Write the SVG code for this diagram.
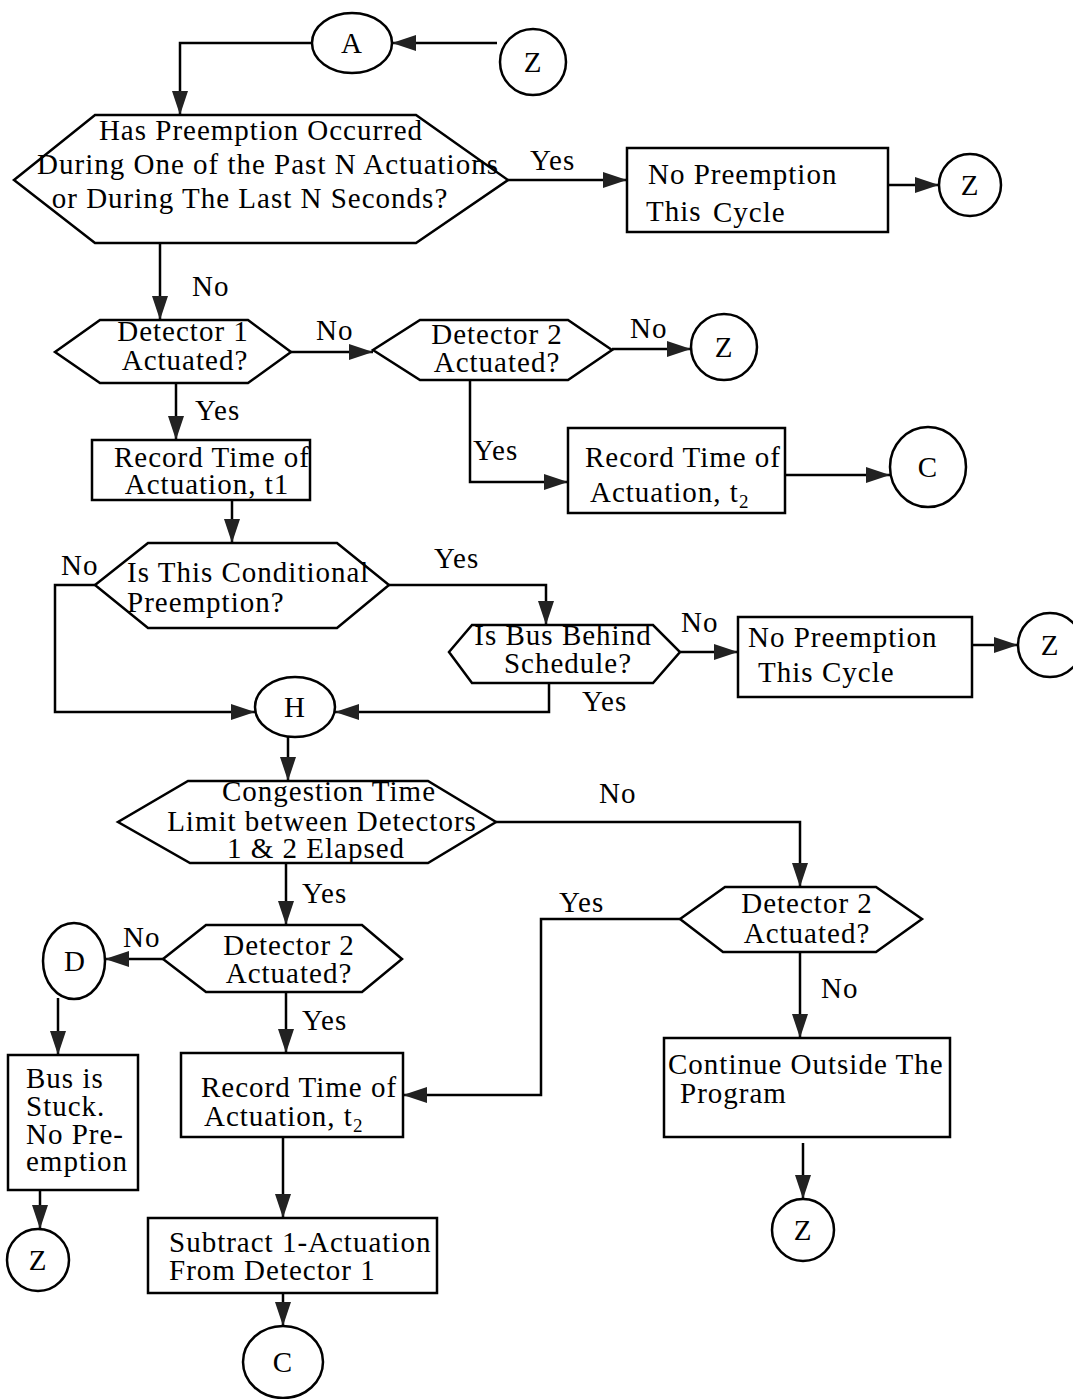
<svg xmlns="http://www.w3.org/2000/svg" width="1073" height="1399" viewBox="0 0 1073 1399">
<style>
.s{fill:#fff;stroke:#000;stroke-width:2.5}
.t{font-family:"Liberation Serif","Times New Roman",serif;font-size:29px;letter-spacing:1px;fill:#000}
.m{text-anchor:middle}
.c{fill:none;stroke:#000;stroke-width:2.5}
.sub{font-size:19px}
</style>
<defs>
<marker id="ar" markerUnits="userSpaceOnUse" markerWidth="26" markerHeight="18" refX="24" refY="9" orient="auto">
<path d="M0,1 L24,9 L0,17 z" fill="#222"/>
</marker>
</defs>
<rect width="1073" height="1399" fill="#fff"/>
<g id="connectors">
<path class="c" d="M497,43 L392,43" marker-end="url(#ar)"/>
<path class="c" d="M312,43 L180,43 L180,115" marker-end="url(#ar)"/>
<path class="c" d="M508,180 L627,180" marker-end="url(#ar)"/>
<path class="c" d="M888,185 L939,185" marker-end="url(#ar)"/>
<path class="c" d="M160,243 L160,320" marker-end="url(#ar)"/>
<path class="c" d="M291,352 L373,352" marker-end="url(#ar)"/>
<path class="c" d="M612,349 L691,349" marker-end="url(#ar)"/>
<path class="c" d="M470,380 L470,482 L568,482" marker-end="url(#ar)"/>
<path class="c" d="M785,475 L890,475" marker-end="url(#ar)"/>
<path class="c" d="M176,383 L176,440" marker-end="url(#ar)"/>
<path class="c" d="M232,500 L232,543" marker-end="url(#ar)"/>
<path class="c" d="M95,585 L55,585 L55,712 L255,712" marker-end="url(#ar)"/>
<path class="c" d="M389,585 L546,585 L546,625" marker-end="url(#ar)"/>
<path class="c" d="M680,652 L738,652" marker-end="url(#ar)"/>
<path class="c" d="M972,645 L1018,645" marker-end="url(#ar)"/>
<path class="c" d="M549,683 L549,712 L335,712" marker-end="url(#ar)"/>
<path class="c" d="M288,737 L288,781" marker-end="url(#ar)"/>
<path class="c" d="M496,822 L800,822 L800,887" marker-end="url(#ar)"/>
<path class="c" d="M286,863 L286,925" marker-end="url(#ar)"/>
<path class="c" d="M163,959 L105,959" marker-end="url(#ar)"/>
<path class="c" d="M58,998 L58,1055" marker-end="url(#ar)"/>
<path class="c" d="M40,1190 L40,1229" marker-end="url(#ar)"/>
<path class="c" d="M286,992 L286,1053" marker-end="url(#ar)"/>
<path class="c" d="M680,919 L541,919 L541,1095 L403,1095" marker-end="url(#ar)"/>
<path class="c" d="M800,952 L800,1038" marker-end="url(#ar)"/>
<path class="c" d="M283,1137 L283,1218" marker-end="url(#ar)"/>
<path class="c" d="M283,1293 L283,1326" marker-end="url(#ar)"/>
<path class="c" d="M803,1143 L803,1199" marker-end="url(#ar)"/>
<text class="t" x="530" y="170">Yes</text>
<text class="t" x="192" y="296">No</text>
<text class="t" x="316" y="340">No</text>
<text class="t" x="630" y="338">No</text>
<text class="t" x="473" y="460">Yes</text>
<text class="t" x="195" y="420">Yes</text>
<text class="t" x="61" y="575">No</text>
<text class="t" x="434" y="568">Yes</text>
<text class="t" x="681" y="632">No</text>
<text class="t" x="582" y="711">Yes</text>
<text class="t" x="599" y="803">No</text>
<text class="t" x="302" y="903">Yes</text>
<text class="t" x="123" y="947">No</text>
<text class="t" x="302" y="1030">Yes</text>
<text class="t" x="559" y="912">Yes</text>
<text class="t" x="821" y="998">No</text>
</g>
<g id="nA"><ellipse class="s" cx="352" cy="43" rx="40" ry="30"/><text class="t m" x="352" y="53">A</text></g>
<g id="nZ1"><ellipse class="s" cx="533" cy="62" rx="33" ry="33"/><text class="t m" x="533" y="72">Z</text></g>
<g id="nQ1"><polygon class="s" points="95,115 416,115 508,180 416,243 95,243 14,180"/>
<text class="t m" x="261" y="140">Has Preemption Occurred</text>
<text class="t m" x="268" y="174">During One of the Past N Actuations</text>
<text class="t m" x="250" y="208">or During The Last N Seconds?</text></g>
<g id="nB1"><rect class="s" x="627" y="148" width="261" height="84"/>
<text class="t" x="648" y="184">No Preemption</text>
<text class="t" x="646" y="221">This</text><text class="t" x="713" y="222">Cycle</text></g>
<g id="nZ2"><ellipse class="s" cx="970" cy="185" rx="31" ry="31"/><text class="t m" x="970" y="195">Z</text></g>
<g id="nDet1"><polygon class="s" points="100,320 248,320 291,352 248,383 100,383 55,352"/>
<text class="t m" x="183" y="341">Detector 1</text>
<text class="t m" x="185" y="370">Actuated?</text></g>
<g id="nDet2a"><polygon class="s" points="420,320 568,320 612,350 568,380 420,380 373,350"/>
<text class="t m" x="497" y="344">Detector 2</text>
<text class="t m" x="497" y="372">Actuated?</text></g>
<g id="nZ3"><ellipse class="s" cx="724" cy="347" rx="33" ry="33"/><text class="t m" x="724" y="357">Z</text></g>
<g id="nRec2a"><rect class="s" x="568" y="428" width="217" height="85"/>
<text class="t m" x="683" y="467">Record Time of</text>
<text class="t" x="590" y="502">Actuation, t<tspan class="sub" dy="6">2</tspan></text></g>
<g id="nC1"><ellipse class="s" cx="928" cy="467" rx="38" ry="40"/><text class="t m" x="928" y="477">C</text></g>
<g id="nRec1"><rect class="s" x="92" y="440" width="218" height="60"/>
<text class="t m" x="212" y="467">Record Time of</text>
<text class="t m" x="207" y="494">Actuation, t1</text></g>
<g id="nCond"><polygon class="s" points="148,543 337,543 389,585 337,628 148,628 95,585"/>
<text class="t" x="127" y="582">Is This Conditional</text>
<text class="t" x="127" y="612">Preemption?</text></g>
<g id="nBus"><polygon class="s" points="472,625 653,625 680,652 653,683 472,683 449,652"/>
<text class="t m" x="563" y="645">Is Bus Behind</text>
<text class="t m" x="568" y="673">Schedule?</text></g>
<g id="nB2"><rect class="s" x="738" y="617" width="234" height="80"/>
<text class="t" x="748" y="647">No Preemption</text>
<text class="t" x="758" y="682">This</text><text class="t" x="822" y="682">Cycle</text></g>
<g id="nZ4"><ellipse class="s" cx="1050" cy="645" rx="32" ry="32"/><text class="t m" x="1050" y="655">Z</text></g>
<g id="nH"><ellipse class="s" cx="295" cy="707" rx="40" ry="30"/><text class="t m" x="295" y="717">H</text></g>
<g id="nCong"><polygon class="s" points="188,781 428,781 496,822 428,863 190,863 118,822"/>
<text class="t m" x="329" y="801">Congestion Time</text>
<text class="t m" x="322" y="831">Limit between Detectors</text>
<text class="t m" x="316" y="858">1 &amp; 2 Elapsed</text></g>
<g id="nDet2r"><polygon class="s" points="725,887 876,887 922,919 876,952 723,952 680,919"/>
<text class="t m" x="807" y="913">Detector 2</text>
<text class="t m" x="807" y="943">Actuated?</text></g>
<g id="nDet2l"><polygon class="s" points="206,925 362,925 402,959 362,992 206,992 163,959"/>
<text class="t m" x="289" y="955">Detector 2</text>
<text class="t m" x="289" y="983">Actuated?</text></g>
<g id="nD"><ellipse class="s" cx="74" cy="961" rx="31" ry="38"/><text class="t m" x="75" y="971">D</text></g>
<g id="nStuck"><rect class="s" x="8" y="1055" width="130" height="135"/>
<text class="t" x="26" y="1088">Bus is</text>
<text class="t" x="26" y="1116">Stuck.</text>
<text class="t" x="26" y="1144">No Pre-</text>
<text class="t" x="26" y="1171">emption</text></g>
<g id="nZ5"><ellipse class="s" cx="38" cy="1260" rx="31" ry="31"/><text class="t m" x="38" y="1270">Z</text></g>
<g id="nRec2b"><rect class="s" x="181" y="1053" width="222" height="84"/>
<text class="t" x="201" y="1097">Record Time of</text>
<text class="t" x="204" y="1126">Actuation, t<tspan class="sub" dy="6">2</tspan></text></g>
<g id="nSub"><rect class="s" x="148" y="1218" width="289" height="75"/>
<text class="t" x="169" y="1252">Subtract 1-Actuation</text>
<text class="t" x="169" y="1280">From Detector 1</text></g>
<g id="nC2"><ellipse class="s" cx="283" cy="1362" rx="40" ry="36"/><text class="t m" x="283" y="1372">C</text></g>
<g id="nCont"><rect class="s" x="664" y="1038" width="286" height="99"/>
<text class="t" x="668" y="1074">Continue Outside The</text>
<text class="t" x="680" y="1103">Program</text></g>
<g id="nZ6"><ellipse class="s" cx="803" cy="1230" rx="31" ry="31"/><text class="t m" x="803" y="1240">Z</text></g>
</svg>
